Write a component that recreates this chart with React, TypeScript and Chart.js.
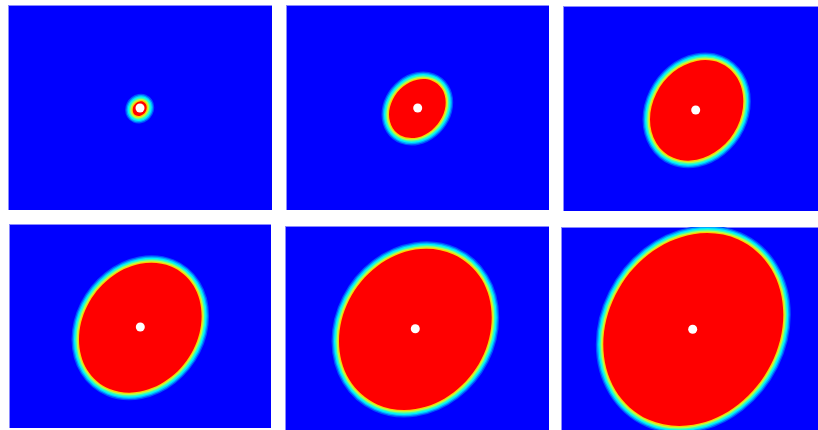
import React, { useEffect, useRef } from 'react';
import { Chart, registerables } from 'chart.js';

Chart.register(...registerables);

// Six snapshots of a spreading front (time steps).
const frameIds = ['t1', 't2', 't3', 't4', 't5', 't6'];

// Ignition point (white dot) per snapshot, in panel grid units.
const ignitionX = [132, 131.7, 132.7, 131.3, 130.3, 131.7];
const ignitionY = [103, 103, 104, 103, 102.7, 102.3];

// Burning-region boundary (edge of the red zone) per snapshot, in panel grid units.
const front1: [number, number][] = [
  [138.7, 102.4], [137.8, 98.9], [135.2, 96.7], [131.7, 96.4], [128.2, 98.0], [125.6, 101.1],
  [124.7, 104.9], [125.6, 108.4], [128.2, 110.6], [131.7, 110.9], [135.2, 109.3], [137.8, 106.2],
];
const front2: [number, number][] = [
  [159.7, 97.4], [155.9, 83.8], [145.5, 75.5], [131.4, 74.7], [117.2, 81.6], [106.8, 94.4],
  [103.0, 109.6], [106.8, 123.2], [117.2, 131.6], [131.4, 132.4], [145.5, 125.4], [155.9, 112.6],
];
const front3: [number, number][] = [
  [180.3, 95.2], [174.1, 71.7], [157.0, 56.9], [133.7, 54.9], [110.3, 66.1], [93.3, 87.5],
  [87.0, 113.5], [93.3, 137.0], [110.3, 151.8], [133.7, 153.8], [157.0, 142.6], [174.1, 121.2],
];
const front4: [number, number][] = [
  [192.6, 91.9], [184.4, 61.5], [162.0, 42.4], [131.3, 39.8], [100.7, 54.3], [78.2, 82.0],
  [70.0, 115.5], [78.2, 145.9], [100.7, 165.0], [131.3, 167.6], [162.0, 153.1], [184.4, 125.4],
];
const front5: [number, number][] = [
  [206.7, 91.4], [196.5, 53.1], [168.5, 28.4], [130.4, 23.6], [92.2, 40.2], [64.2, 73.8],
  [54.0, 115.3], [64.2, 153.6], [92.2, 178.4], [130.4, 183.1], [168.5, 166.5], [196.5, 133.0],
];
const front6: [number, number][] = [
  [222.3, 87.5], [210.2, 41.8], [177.3, 12.4], [132.3, 7.2], [87.3, 27.5], [54.4, 68.0],
  [42.3, 117.6], [54.4, 163.2], [87.3, 192.6], [132.3, 197.8], [177.3, 177.5], [210.2, 137.1],
];
const fronts = [front1, front2, front3, front4, front5, front6];

// Layout (page placement of each panel)
const frameLeft = [8, 286, 563, 9, 285, 561];
const frameTop = [5, 5, 6, 224, 226, 227];
const frameWidth = [264, 263, 255, 262, 264, 257];
const frameHeight = [205, 205, 205, 204, 204, 203];

// Colour bands of the transition zone (outermost first), jet-like palette
const bandColors = ['#0050ff', '#00a8ff', '#00f0ff', '#40ffb0', '#b0ff50', '#ffd000'];
const bandWidths = [15, 12.5, 10, 7.5, 5, 2.5];

const panelBackground = {
  id: 'panelBackground',
  beforeDraw(chart: any) {
    const { ctx, chartArea } = chart;
    ctx.save();
    ctx.fillStyle = '#0000ff';
    ctx.fillRect(chartArea.left, chartArea.top, chartArea.right - chartArea.left, chartArea.bottom - chartArea.top);
    ctx.fillStyle = '#8a8aff';
    ctx.fillRect(chartArea.left, chartArea.top, chartArea.right - chartArea.left, 1);
    ctx.fillRect(chartArea.left, chartArea.top, 1, chartArea.bottom - chartArea.top);
    ctx.restore();
  },
};

function FramePanel({ index }: { index: number }) {
  const ref = useRef<HTMLCanvasElement>(null);
  const w = frameWidth[index];
  const h = frameHeight[index];

  useEffect(() => {
    const canvas = ref.current;
    if (!canvas) return;
    const front = fronts[index];
    const n = front.length;
    // wrap around so the smoothed curve closes without a kink
    const loop = [front[n - 1], ...front, front[0], front[1]].map(([x, y]) => ({ x, y }));

    const strokeSets = bandColors
      .map((c, i) => ({
        label: 'band' + i,
        data: loop,
        showLine: true,
        fill: false,
        borderColor: c,
        borderWidth: bandWidths[i],
        pointRadius: 0,
        tension: 0.35,
      }))
      .reverse();

    const chart = new Chart(canvas, {
      type: 'scatter',
      data: {
        datasets: [
          {
            label: 'ignition ' + frameIds[index],
            data: [{ x: ignitionX[index], y: ignitionY[index] }],
            showLine: false,
            pointRadius: 4.5,
            pointBackgroundColor: '#ffffff',
            pointBorderWidth: 0,
            backgroundColor: '#ffffff',
          } as any,
          {
            label: 'burning ' + frameIds[index],
            data: loop,
            showLine: true,
            fill: 'shape',
            backgroundColor: '#ff0000',
            borderColor: 'rgba(0,0,0,0)',
            borderWidth: 0,
            pointRadius: 0,
            tension: 0.35,
          } as any,
          ...(strokeSets as any[]),
        ],
      },
      options: {
        animation: false,
        responsive: false,
        maintainAspectRatio: false,
        devicePixelRatio: 1,
        layout: { padding: 0, autoPadding: false },
        events: [],
        plugins: {
          legend: { display: false },
          tooltip: { enabled: false },
          title: { display: false },
        },
        scales: {
          x: { type: 'linear', min: 0, max: w, display: false },
          y: { type: 'linear', min: 0, max: h, reverse: true, display: false },
        },
      } as any,
      plugins: [panelBackground],
    });
    return () => chart.destroy();
  }, [index, w, h]);

  return (
    <canvas
      ref={ref}
      width={w}
      height={h}
      style={{
        position: 'absolute',
        left: frameLeft[index],
        top: frameTop[index],
        width: w,
        height: h,
        display: 'block',
      }}
    />
  );
}

export default function App() {
  return (
    <div
      style={{
        position: 'absolute',
        left: 0,
        top: 0,
        width: 818,
        height: 430,
        background: '#ffffff',
        overflow: 'hidden',
      }}
    >
      {frameIds.map((id, i) => (
        <FramePanel key={id} index={i} />
      ))}
    </div>
  );
}
